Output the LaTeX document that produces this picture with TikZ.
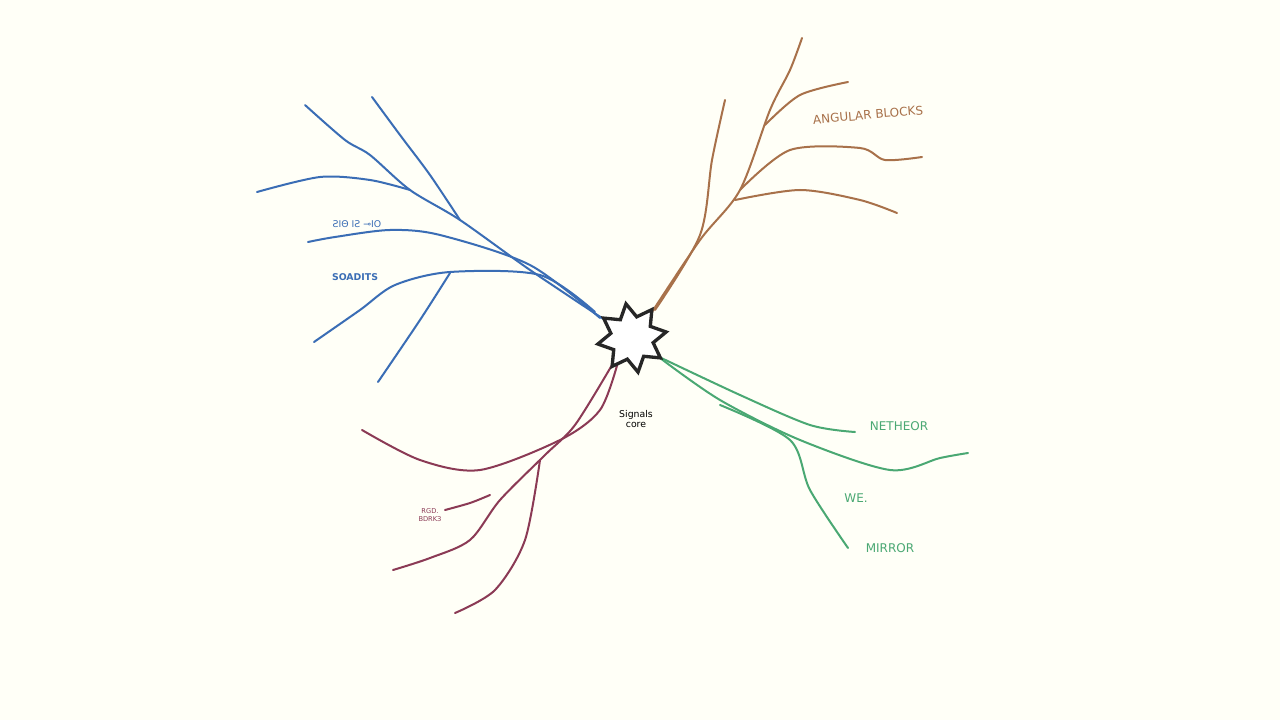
\documentclass[tikz,border=0pt]{standalone}
\usetikzlibrary{shapes.geometric}
\usepackage{fontspec}
\setmainfont{DejaVu Sans}
\definecolor{bl}{HTML}{3A6DB5}
\definecolor{bn}{HTML}{A8714A}
\definecolor{gr}{HTML}{4AA873}
\definecolor{mr}{HTML}{8B3A55}
\begin{document}
\begin{tikzpicture}[x=0.75pt,y=-0.75pt,
  pen/.style={line width=1.5pt,line cap=round,line join=round},
  lbl/.style={inner sep=0pt}]
\fill[white!97!yellow] (0,0) rectangle (1280,720);
\useasboundingbox (0,0) rectangle (1280,720);
% blue
\begin{scope}[bl,pen]
\draw plot[smooth] coordinates {(605,320)(530,270)(460,220)(410,190)(370,155)(345,140)(305,105)};
\draw plot[smooth] coordinates {(460,220)(430,175)(400,135)(372,97)};
\draw plot[smooth] coordinates {(410,190)(370,180)(320,177)(257,192)};
\draw plot[smooth] coordinates {(600,318)(530,265)(440,235)(390,230)(335,237)(308,242)};
\draw plot[smooth] coordinates {(595,312)(540,275)(450,272)(395,285)(360,310)(314,342)};
\draw plot[smooth] coordinates {(450,273)(420,320)(378,382)};
\end{scope}
% brown
\begin{scope}[bn,pen]
\draw plot[smooth] coordinates {(650,315)(700,240)(740,190)(770,110)(790,70)(802,38)};
\draw plot[smooth] coordinates {(655,310)(700,235)(712,160)(725,100)};
\draw plot[smooth] coordinates {(765,125)(800,95)(848,82)};
\draw plot[smooth] coordinates {(740,190)(790,150)(860,148)(885,160)(922,157)};
\draw plot[smooth] coordinates {(735,200)(800,190)(860,200)(897,213)};
\end{scope}
% green
\begin{scope}[gr,pen]
\draw plot[smooth] coordinates {(655,355)(740,395)(810,425)(855,432)};
\draw plot[smooth] coordinates {(660,358)(720,400)(800,440)(890,470)(940,458)(968,453)};
\draw plot[smooth] coordinates {(720,405)(790,440)(810,490)(848,548)};
\end{scope}
% maroon
\begin{scope}[mr,pen]
\draw plot[smooth] coordinates {(618,362)(600,410)(560,440)(480,470)(420,460)(362,430)};
\draw plot[smooth] coordinates {(612,365)(575,425)(545,455)(500,500)(470,540)(430,558)(393,570)};
\draw plot[smooth] coordinates {(540,460)(525,540)(495,590)(455,613)};
\draw plot[smooth] coordinates {(445,510)(470,503)(490,495)};
\end{scope}
\node[draw=black!85,line width=2.5pt,star,star points=8,star point ratio=1.6,minimum size=52pt,fill=white,inner sep=0pt,rotate=10] (core) at (632,338) {};
\node[lbl,align=center,font=\scriptsize] (cl) at (636,419) {Signals\\core};
\node[lbl,bl,font=\scriptsize] at (357,224) {ƧIΘ IƧ ⊸IO};
\node[lbl,bl,font=\scriptsize\bfseries] at (355,277) {SOADITS};
\node[lbl,bn,font=\small,rotate=5] at (868,115) {ANGULAR BLOCKS};
\node[lbl,gr,font=\small] at (899,426) {NETHEOR};
\node[lbl,gr,font=\small] at (856,498) {WE.};
\node[lbl,gr,font=\small] at (890,548) {MIRROR};
\node[lbl,mr,align=center,font=\tiny] at (430,515) {RGD.\\BDRKЗ};
\end{tikzpicture}
\end{document}
